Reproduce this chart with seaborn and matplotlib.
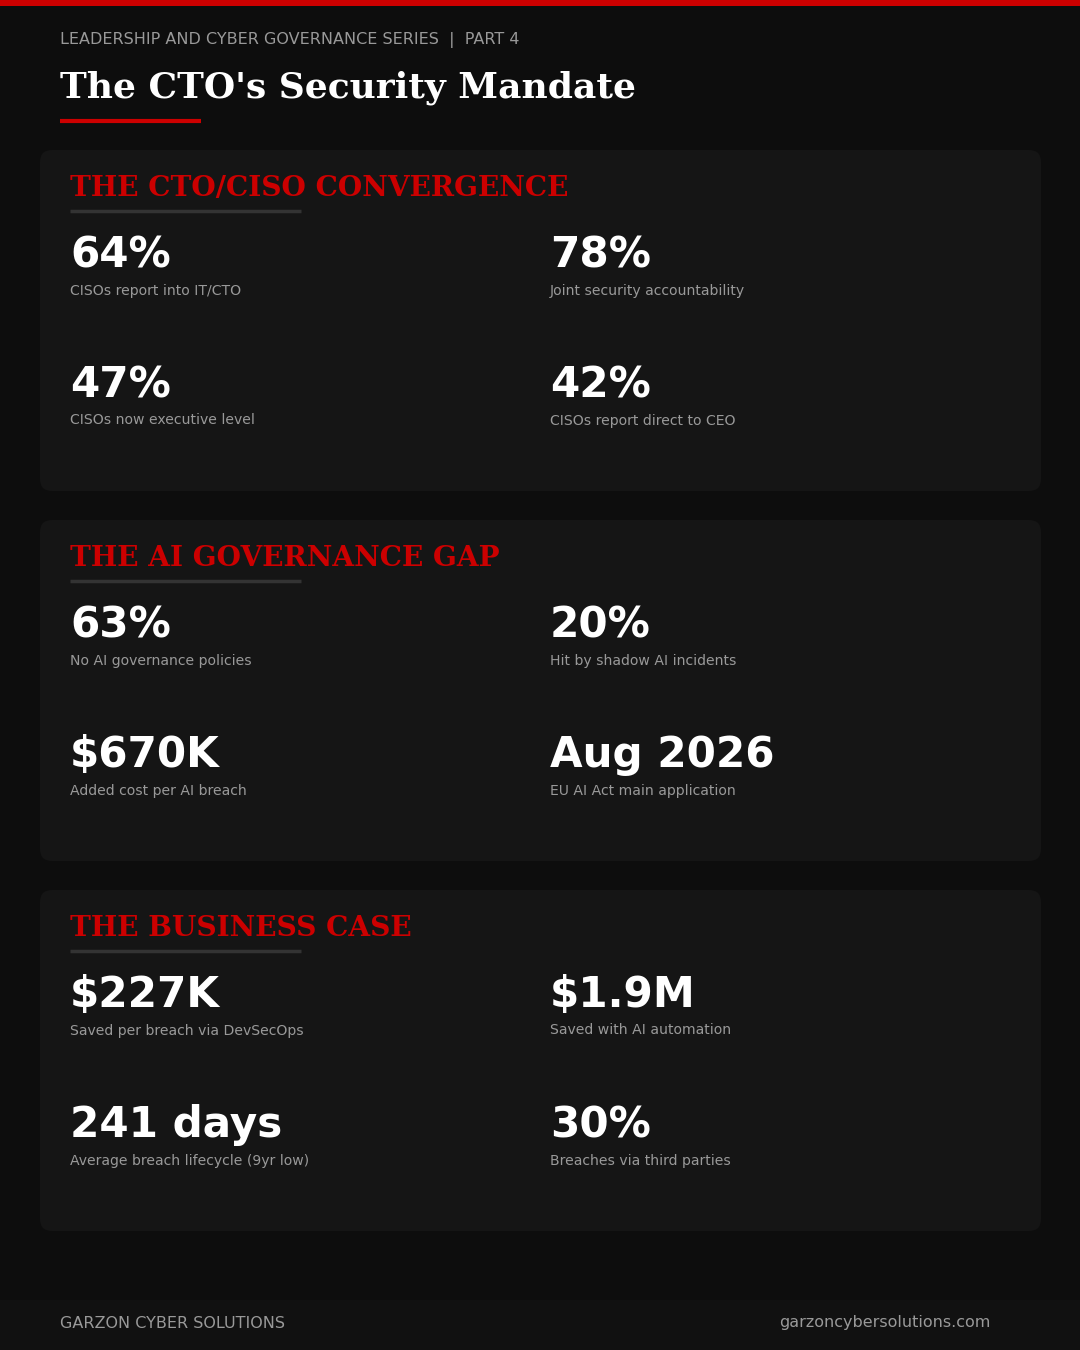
import matplotlib.pyplot as plt
import seaborn as sns
from matplotlib.patches import FancyBboxPatch, Rectangle

series_label = "LEADERSHIP AND CYBER GOVERNANCE SERIES  |  PART 4"
title = "The CTO's Security Mandate"
section_titles = ["THE CTO/CISO CONVERGENCE", "THE AI GOVERNANCE GAP", "THE BUSINESS CASE"]
stat_values = [
    ["64%", "78%", "47%", "42%"],
    ["63%", "20%", "$670K", "Aug 2026"],
    ["$227K", "$1.9M", "241 days", "30%"],
]
stat_labels = [
    ["CISOs report into IT/CTO", "Joint security accountability",
     "CISOs now executive level", "CISOs report direct to CEO"],
    ["No AI governance policies", "Hit by shadow AI incidents",
     "Added cost per AI breach", "EU AI Act main application"],
    ["Saved per breach via DevSecOps", "Saved with AI automation",
     "Average breach lifecycle (9yr low)", "Breaches via third parties"],
]
footer_left = "GARZON CYBER SOLUTIONS"
footer_right = "garzoncybersolutions.com"

RED = "#cc0000"
BG = "#0d0d0d"
CARD = "#151515"

sns.set_theme(style="dark")
fig = plt.figure(figsize=(10.8, 13.5), dpi=100, facecolor=BG)
ax = fig.add_axes([0, 0, 1, 1])
ax.set_xlim(0, 1080)
ax.set_ylim(1350, 0)
ax.set_facecolor(BG)
ax.axis("off")

# top red bar and footer band
ax.add_patch(Rectangle((0, 0), 1080, 6, color=RED, lw=0))
ax.add_patch(Rectangle((0, 1300), 1080, 50, color="#111111", lw=0))

ax.text(60, 40, series_label, color="#999999", fontsize=11.5, va="center", family="DejaVu Sans")
ax.text(60, 88, title, color="white", fontsize=25.9, fontweight="bold", va="center", family="DejaVu Serif")
ax.plot([60, 201], [121, 121], color=RED, lw=3, solid_capstyle="butt")

card_tops = [150, 520, 890]
for top, sec, vals, labs in zip(card_tops, section_titles, stat_values, stat_labels):
    ax.add_patch(FancyBboxPatch((40, top), 1001, 341, boxstyle="round,pad=0,rounding_size=12",
                                fc=CARD, ec="none"))
    ax.text(70, top + 38, sec, color=RED, fontsize=20.2, fontweight="bold", va="center",
            family="DejaVu Serif")
    ax.plot([70, 301], [top + 61, top + 61], color="#333333", lw=2.5, solid_capstyle="butt")
    for i, (v, l) in enumerate(zip(vals, labs)):
        x = 70 if i % 2 == 0 else 550
        y = top + 105 + (i // 2) * 130
        ax.text(x, y, v, color="white", fontsize=30.3, fontweight="bold", va="center",
                family="DejaVu Sans")
        ax.text(x, y + 35.5, l, color="#999999", fontsize=10.1, va="center", family="DejaVu Sans")

ax.text(60, 1323, footer_left, color="#999999", fontsize=11.5, va="center", family="DejaVu Sans")
ax.text(990, 1323, footer_right, color="#999999", fontsize=11.5, va="center", ha="right",
        family="DejaVu Sans")

fig.savefig("out.png", dpi=100, facecolor=BG)
